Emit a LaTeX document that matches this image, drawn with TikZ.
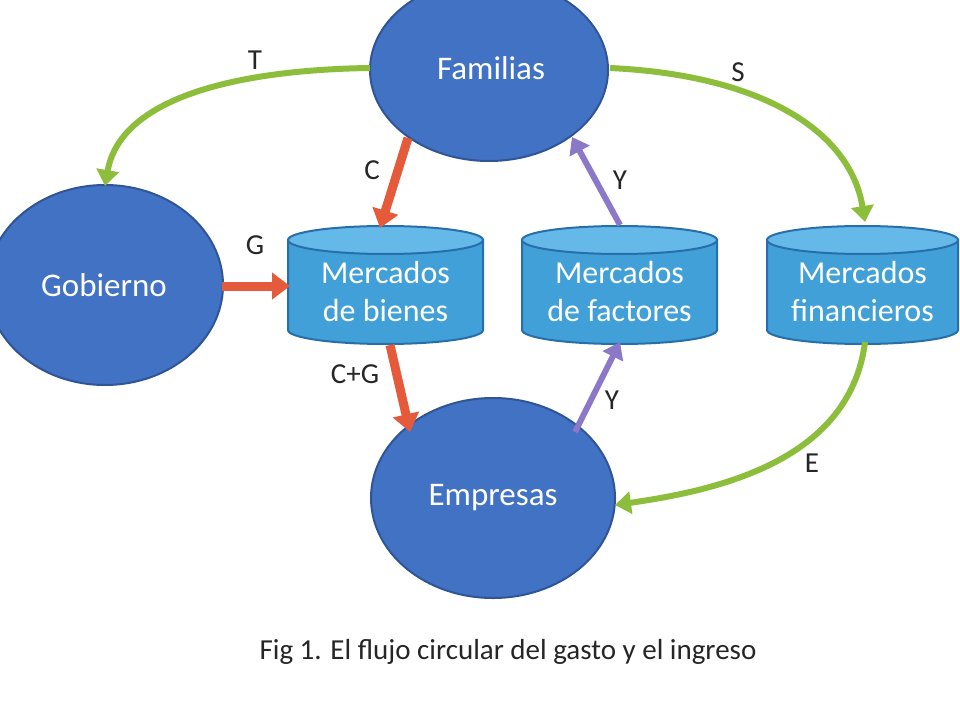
\documentclass[tikz,border=0pt]{standalone}
\usepackage{fontspec}
\setmainfont{Carlito}
\usetikzlibrary{arrows.meta,shapes.geometric}
\definecolor{ell}{RGB}{66,114,196}
\definecolor{ellb}{RGB}{47,85,150}
\definecolor{cyl}{RGB}{64,160,215}
\definecolor{cylb}{RGB}{40,110,170}
\definecolor{cylt}{RGB}{100,185,232}
\definecolor{red}{RGB}{230,90,60}
\definecolor{grn}{RGB}{140,190,60}
\definecolor{pur}{RGB}{140,120,200}
\tikzset{
 ag/.style={ellipse,draw=ellb,line width=2pt,fill=ell,text=white,font=\fontsize{33}{38}\selectfont},
 lab/.style={font=\fontsize{29}{34}\selectfont,text=black!85},
 cyltxt/.style={text=white,font=\fontsize{32}{38}\selectfont,align=center},
 ar/.style={line width=6pt,-{Triangle[length=16pt,width=22pt]}},
 arr/.style={line width=9pt,-{Triangle[length=18pt,width=26pt]}},
}
\newcommand{\mycyl}[4]{% x1 x2 name text
 \fill[cyl,draw=cylb,line width=2pt] (#1,240) -- (#1,330) arc[start angle=180,end angle=0,x radius={(#2-#1)/2},y radius=14] -- (#2,240) -- cycle;
 \fill[cylt,draw=cylb,line width=2pt] ({(#1+#2)/2},240) ellipse[x radius={(#2-#1)/2},y radius=14];
 \node[cyltxt] (#3) at ({(#1+#2)/2},292) {#4};
}
\begin{document}
\begin{tikzpicture}[x=1pt,y=-1pt]
\useasboundingbox[fill=white] (0,0) rectangle (960,703);
\begin{scope}
\clip (0,0) rectangle (960,703);
\node[ag,minimum width=238pt,minimum height=182pt] (fam) at (489,70) {};
\node[text=white,font=\fontsize{33}{38}\selectfont] at (491,68) {Familias};
\node[ag,minimum width=236pt,minimum height=200pt] (gob) at (105,285) {};
\node[text=white,font=\fontsize{33}{38}\selectfont] at (104,285) {Gobierno};
\node[ag,minimum width=244pt,minimum height=200pt] (emp) at (493,498) {Empresas};
\end{scope}
\mycyl{288}{483}{mb}{Mercados\\de bienes}
\mycyl{522}{717}{mf}{Mercados\\de factores}
\mycyl{767}{958}{mfi}{Mercados\\financieros}
\coordinate (t1) at (370,68); \coordinate (t2) at (105,186);
\draw[ar,grn] (t1) .. controls (230,70) and (120,100) .. (t2);
\coordinate (s1) at (610,68); \coordinate (s2) at (865,222);
\draw[ar,grn] (s1) .. controls (760,75) and (850,130) .. (s2);
\coordinate (e1) at (865,342); \coordinate (e2) at (615,505);
\draw[ar,grn] (e1) .. controls (850,460) and (720,490) .. (e2);
\coordinate (c1) at (408,138); \coordinate (c2) at (380,228);
\draw[arr,red] (c1) -- (c2);
\coordinate (g1) at (222,286); \coordinate (g2) at (290,286);
\draw[arr,red] (g1) -- (g2);
\coordinate (cg1) at (390,345); \coordinate (cg2) at (410,432);
\draw[arr,red] (cg1) -- (cg2);
\coordinate (y1) at (620,225); \coordinate (y2) at (572,137);
\draw[ar,pur] (y1) -- (y2);
\coordinate (y3) at (575,432); \coordinate (y4) at (620,342);
\draw[ar,pur] (y3) -- (y4);
\node[lab] (lt) at (255,60) {T};
\node[lab] (ls) at (738,72) {S};
\node[lab] (lc) at (372,170) {C};
\node[lab] (ly1) at (620,180) {Y};
\node[lab] (lg) at (255,245) {G};
\node[lab] (lcg) at (355,374) {C+G};
\node[lab] (ly2) at (612,400) {Y};
\node[lab] (le) at (812,463) {E};
\node[font=\fontsize{29}{34}\selectfont,text=black!85] (cap) at (508,652) {Fig 1. El flujo circular del gasto y el ingreso};
\end{tikzpicture}
\end{document}
